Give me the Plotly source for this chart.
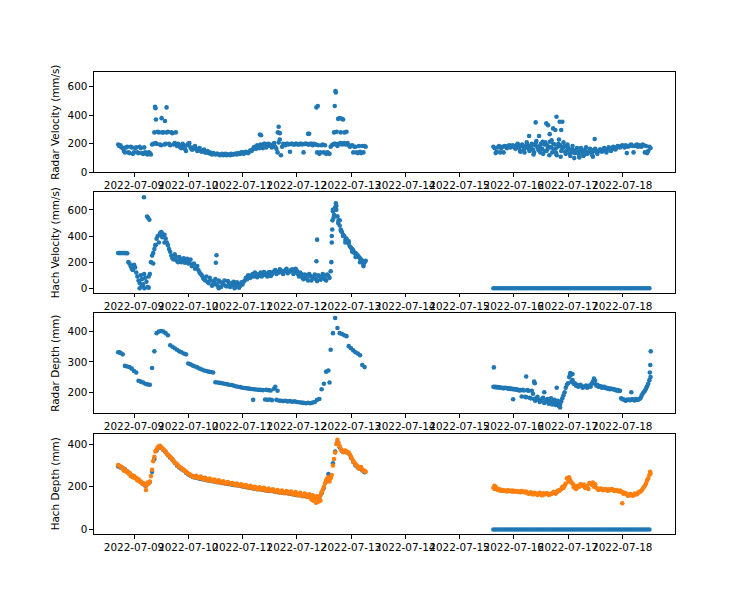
import pandas as pd
import plotly.graph_objects as go

# ---------------- data ----------------
# hourly samples, period A: 2022-07-08 17:00 .. 2022-07-13 06:00 ; period B: 2022-07-15 15:00 .. 2022-07-18 12:00
# "_h" lists hold the readings taken at half past each of those hours
tA = pd.date_range('2022-07-08 17:00', periods=110, freq='h')
tB = pd.date_range('2022-07-15 15:00', periods=70, freq='h')
tA_h = pd.date_range('2022-07-08 17:30', periods=110, freq='h')
tB_h = pd.date_range('2022-07-15 15:30', periods=70, freq='h')
tB_q = pd.date_range('2022-07-16 00:45', periods=36, freq='h')

radar_vel_A = [195, 190, 170, 140, 180, 135, 175, 140, 175, 135,
               170, 130, 140, 125, 135, 195, 280, 200, 280, 190,
               280, 200, 285, 190, 275, 205, 185, 190, 170, 190,
               150, 200, 175, 160, 185, 150, 170, 145, 160, 140,
               135, 130, 135, 125, 130, 120, 130, 125, 120, 125,
               130, 125, 130, 135, 130, 140, 135, 140, 145, 150,
               175, 165, 180, 195, 170, 200, 185, 195, 175, 205,
               165, 210, 120, 200, 190, 200, 145, 200, 195, 200,
               195, 200, 140, 200, 195, 200, 190, 195, 140, 130,
               190, 140, 130, 135, 180, 195, 200, 185, 200, 195,
               205, 200, 190, 185, 140, 180, 135, 145, 185, 185]
radar_vel_A_h = [185, 175, 150, 175, 140, 180, 130, 170, 140, 180,
                 135, 175, 130, 140, 125, 200, 205, 285, 195, 280,
                 195, 280, 200, 280, 195, 280, 200, 175, 200, 165,
                 190, 205, 160, 175, 165, 160, 150, 155, 140, 150,
                 140, 125, 130, 130, 125, 125, 120, 130, 125, 120,
                 125, 130, 125, 130, 140, 130, 145, 135, 155, 160,
                 180, 190, 170, 185, 200, 175, 200, 185, 195, 180,
                 140, 230, 180, 195, 200, 195, 200, 195, 200, 195,
                 200, 195, 200, 200, 195, 200, 200, 195, 190, 140,
                 195, 190, 140, 130, 190, 200, 195, 200, 205, 200,
                 195, 205, 180, 190, 180, 140, 185, 135, 140, 180]
radar_vel_B = [180, 135, 175, 140, 180, 185, 170, 190, 180, 185,
               175, 190, 145, 185, 180, 195, 150, 200, 140, 220,
               155, 200, 130, 210, 165, 215, 140, 195, 120, 230,
               150, 210, 130, 175, 115, 185, 135, 170, 105, 160,
               120, 175, 140, 160, 110, 165, 130, 160, 145, 170,
               140, 175, 150, 180, 160, 185, 175, 190, 175, 135,
               185, 195, 140, 190, 180, 185, 195, 140, 135, 180]
radar_vel_B_h = [170, 145, 185, 170, 140, 180, 185, 175, 190, 175,
                 195, 170, 190, 160, 175, 185, 170, 160, 190, 175,
                 185, 165, 195, 150, 180, 175, 200, 165, 180, 190,
                 170, 185, 155, 160, 140, 155, 150, 140, 150, 135,
                 155, 130, 150, 140, 155, 145, 150, 160, 155, 165,
                 160, 160, 170, 165, 175, 180, 185, 185, 190, 180,
                 190, 185, 185, 195, 190, 180, 190, 185, 150, 170]
radar_vel_B_q = [165, 200, 150, 195, 140, 210, 160, 185, 125, 205,
                 170, 140, 215, 150, 190, 120, 225, 160, 135, 200,
                 110, 175, 145, 195, 130, 160, 100, 150, 125, 170,
                 115, 145, 135, 165, 120, 150]
radar_vel_extra_t = ['2022-07-09 09:18', '2022-07-09 09:30', '2022-07-09 09:42', '2022-07-09 12:12',
                     '2022-07-09 13:42', '2022-07-09 14:24', '2022-07-11 07:42', '2022-07-11 08:12',
                     '2022-07-11 15:36', '2022-07-11 16:00', '2022-07-11 16:30', '2022-07-12 05:00',
                     '2022-07-12 05:30', '2022-07-12 08:42', '2022-07-12 09:18', '2022-07-12 16:48',
                     '2022-07-12 17:06', '2022-07-12 17:18', '2022-07-12 18:18', '2022-07-12 19:00',
                     '2022-07-12 20:00', '2022-07-12 20:30', '2022-07-12 16:30', '2022-07-12 17:42',
                     '2022-07-12 21:12', '2022-07-12 22:00', '2022-07-12 19:30',
                     '2022-07-16 06:48', '2022-07-16 09:42', '2022-07-16 11:12', '2022-07-16 14:24',
                     '2022-07-16 15:12', '2022-07-16 15:54', '2022-07-16 17:24', '2022-07-16 18:24',
                     '2022-07-16 18:54', '2022-07-16 20:18', '2022-07-16 21:00', '2022-07-16 21:30',
                     '2022-07-17 11:48']
radar_vel_extra_v = [460, 450, 370, 380, 360, 455, 265, 260, 280, 320, 275, 270,
                     270, 455, 465, 465, 570, 560, 375, 380, 375, 370, 280, 285,
                     280, 285, 280,
                     255, 350, 255, 343, 330, 268, 308, 297, 390, 355, 297, 355, 234]

hach_vel_A = [270, 270, 270, 270, 268, 190, 150, 180, 120, 60,
              100, 30, 80, 10, 110, 250, 300, 380, 350, 430,
              400, 380, 330, 280, 230, 260, 210, 240, 200, 230,
              210, 190, 220, 180, 150, 170, 120, 100, 70, 90,
              40, 60, 30, 70, 20, 50, 40, 60, 15, 40,
              20, 50, 10, 35, 20, 30, 60, 70, 90, 100,
              90, 110, 95, 120, 100, 115, 90, 125, 105, 130,
              110, 120, 135, 110, 140, 115, 130, 145, 120, 135,
              90, 110, 70, 100, 60, 95, 80, 105, 55, 90,
              75, 100, 60, 95, 130, 600, 620, 550, 480, 430,
              400, 380, 340, 310, 290, 270, 250, 230, 210, 200]
hach_vel_A_h = [270, 270, 270, 270, 200, 170, 140, 160, 90, 40,
                70, 110, 50, 90, 200, 270, 330, 400, 420, 390,
                410, 350, 300, 250, 220, 240, 200, 225, 215, 195,
                225, 200, 170, 190, 160, 140, 110, 80, 60, 50,
                80, 20, 50, 30, 60, 10, 30, 20, 55, 10,
                40, 25, 45, 5, 45, 50, 80, 100, 80, 110,
                120, 85, 110, 90, 125, 100, 120, 95, 125, 140,
                125, 145, 120, 130, 150, 125, 140, 110, 150, 110,
                120, 80, 105, 75, 110, 60, 90, 70, 100, 65,
                110, 70, 105, 80, 400, 560, 630, 520, 440, 410,
                370, 360, 320, 300, 270, 260, 240, 220, 180, 210]
hach_vel_B = [0, 0, 0, 0, 0, 0, 0, 0, 0, 0,
              0, 0, 0, 0, 0, 0, 0, 0, 0, 0,
              0, 0, 0, 0, 0, 0, 0, 0, 0, 0,
              0, 0, 0, 0, 0, 0, 0, 0, 0, 0,
              0, 0, 0, 0, 0, 0, 0, 0, 0, 0,
              0, 0, 0, 0, 0, 0, 0, 0, 0, 0,
              0, 0, 0, 0, 0, 0, 0, 0, 0, 0]
hach_vel_extra_t = ['2022-07-09 04:24', '2022-07-09 05:48', '2022-07-09 06:12', '2022-07-09 06:48',
                    '2022-07-09 02:30', '2022-07-09 04:36', '2022-07-09 06:30', '2022-07-09 03:30',
                    '2022-07-09 08:30', '2022-07-09 09:30', '2022-07-09 11:30', '2022-07-09 12:30',
                    '2022-07-09 13:30', '2022-07-10 12:30', '2022-07-10 12:12', '2022-07-10 13:30',
                    '2022-07-10 20:30', '2022-07-12 09:00', '2022-07-12 08:42', '2022-07-12 15:18',
                    '2022-07-12 15:30', '2022-07-12 15:42', '2022-07-12 15:48', '2022-07-12 16:00',
                    '2022-07-12 16:18', '2022-07-12 16:36', '2022-07-12 17:18', '2022-07-12 17:30',
                    '2022-07-12 18:18', '2022-07-12 19:00', '2022-07-12 19:30', '2022-07-12 20:30',
                    '2022-07-12 21:30', '2022-07-12 23:00', '2022-07-13 00:30', '2022-07-13 02:00',
                    '2022-07-13 04:00', '2022-07-13 05:30']
hach_vel_extra_v = [696, 549, 540, 524, 0, 0, 5, 20, 190, 330, 410, 420, 350, 253, 195, 0,
                    0, 372, 207, 200, 350, 450, 520, 590, 540, 600, 650, 600, 500, 520,
                    450, 400, 350, 360, 280, 240, 200, 170]

radar_depth_A = [332, 330, 325, 287, 285, 283, 278, 270, 265, 238,
                 235, 232, 228, 226, 225, 280, 335, 395, 400, 402,
                 400, 395, 388, 355, 350, 345, 340, 335, 332, 328,
                 325, 295, 292, 288, 285, 282, 278, 275, 272, 270,
                 268, 267, 265, 233, 232, 231, 230, 228, 227, 225,
                 224, 222, 220, 218, 217, 215, 214, 213, 212, 211,
                 210, 209, 208, 208, 207, 176, 175, 176, 174, 212,
                 175, 173, 172, 171, 172, 170, 171, 169, 170, 168,
                 167, 166, 165, 164, 165, 164, 166, 168, 175, 178,
                 210, 228, 268, 272, 340, 395, 445, 412, 395, 392,
                 388, 385, 352, 345, 338, 332, 328, 322, 290, 283]
radar_depth_B = [218, 218, 217, 216, 215, 215, 214, 213, 212, 211,
                 210, 208, 207, 208, 185, 207, 182, 205, 178, 180,
                 175, 172, 182, 168, 178, 170, 160, 175, 165, 155,
                 170, 190, 215, 230, 255, 240, 230, 225, 222, 220,
                 218, 222, 220, 218, 235, 238, 225, 220, 215, 218,
                 215, 213, 212, 210, 208, 207, 205, 178, 175, 174,
                 175, 176, 175, 178, 175, 180, 195, 205, 220, 240]
radar_depth_B_h = [217, 216, 216, 214, 213, 214, 212, 211, 210, 209,
                   208, 206, 186, 206, 184, 205, 180, 195, 172, 185,
                   168, 178, 165, 175, 162, 180, 168, 158, 172, 160,
                   180, 200, 225, 250, 235, 228, 222, 218, 225, 215,
                   220, 215, 222, 228, 230, 222, 218, 220, 216, 214,
                   212, 210, 211, 209, 206, 204, 180, 176, 172, 176,
                   174, 177, 173, 176, 178, 188, 200, 212, 228, 250]
radar_depth_extra_t = ['2022-07-08 17:30', '2022-07-11 04:42', '2022-07-11 10:30', '2022-07-11 11:30',
                       '2022-07-11 12:30', '2022-07-11 14:30', '2022-07-11 15:30', '2022-07-12 14:30',
                       '2022-07-15 15:12', '2022-07-15 23:42', '2022-07-16 05:30', '2022-07-16 09:00',
                       '2022-07-16 09:18', '2022-07-16 13:30', '2022-07-16 20:30', '2022-07-17 01:00',
                       '2022-07-17 02:00', '2022-07-17 11:30', '2022-07-18 04:00', '2022-07-18 12:12',
                       '2022-07-18 12:24', '2022-07-18 12:36', '2022-07-16 19:00']
radar_depth_extra_v = [332, 175, 208, 207, 206, 218, 205, 232,
                       282, 177, 252, 235, 230, 200, 150, 263,
                       260, 245, 200, 265, 290, 335, 215]

hach_depth_A = [295, 290, 288, 282, 272, 262, 252, 246, 240, 232,
                222, 214, 205, 215, 222, 270, 330, 370, 385, 382,
                372, 362, 348, 336, 326, 312, 300, 290, 282, 276,
                266, 258, 252, 246, 244, 241, 238, 236, 234, 232,
                230, 228, 226, 224, 222, 220, 218, 216, 214, 213,
                211, 209, 208, 206, 204, 202, 200, 198, 196, 194,
                192, 191, 189, 188, 186, 184, 182, 181, 180, 178,
                176, 174, 173, 172, 171, 170, 168, 166, 164, 162,
                161, 159, 157, 156, 154, 152, 155, 150, 152, 148,
                170, 195, 225, 260, 250, 310, 365, 410, 385, 368,
                364, 362, 356, 336, 316, 300, 290, 285, 276, 268]
hach_depth_B = [0, 0, 0, 0, 0, 0, 0, 0, 0, 0,
                0, 0, 0, 0, 0, 0, 0, 0, 0, 0,
                0, 0, 0, 0, 0, 0, 0, 0, 0, 0,
                0, 0, 0, 0, 0, 0, 0, 0, 0, 0,
                0, 0, 0, 0, 0, 0, 0, 0, 0, 0,
                0, 0, 0, 0, 0, 0, 0, 0, 0, 0,
                0, 0, 0, 0, 0, 0, 0, 0, 0, 0]

depth2_A = [302, 295, 285, 280, 270, 265, 255, 250, 242, 235,
            225, 218, 212, 220, 225, 280, 340, 375, 390, 385,
            375, 365, 350, 340, 330, 315, 305, 295, 285, 280,
            270, 262, 255, 250, 248, 245, 242, 240, 238, 236,
            234, 232, 230, 228, 226, 224, 222, 220, 218, 217,
            215, 213, 212, 210, 208, 206, 204, 202, 200, 198,
            196, 195, 193, 192, 190, 188, 186, 185, 184, 182,
            180, 178, 177, 176, 175, 174, 172, 170, 168, 166,
            165, 163, 161, 160, 158, 150, 160, 145, 155, 140,
            175, 200, 230, 245, 240, 300, 360, 420, 390, 370,
            368, 365, 360, 340, 320, 305, 295, 290, 280, 275]
depth2_A_h = [298, 292, 275, 272, 262, 250, 245, 240, 230, 225,
              215, 210, 205, 215, 250, 320, 365, 385, 392, 380,
              370, 355, 345, 335, 320, 310, 300, 290, 282, 275,
              265, 258, 250, 245, 252, 240, 248, 235, 242, 230,
              238, 226, 234, 222, 230, 218, 226, 215, 222, 212,
              218, 208, 215, 205, 212, 200, 208, 196, 205, 192,
              200, 188, 198, 186, 195, 182, 192, 180, 188, 176,
              185, 172, 182, 170, 180, 168, 178, 163, 175, 160,
              172, 156, 168, 152, 165, 140, 155, 150, 148, 160,
              185, 215, 240, 225, 255, 330, 400, 405, 375, 362,
              370, 358, 350, 330, 312, 300, 285, 292, 276, 270]
depth2_B = [195, 200, 185, 182, 180, 180, 178, 180, 178, 177,
            178, 176, 175, 177, 174, 172, 170, 168, 172, 166,
            168, 165, 170, 166, 168, 165, 170, 172, 175, 180,
            190, 195, 215, 235, 230, 215, 205, 195, 200, 208,
            210, 200, 190, 215, 220, 212, 192, 188, 190, 187,
            185, 188, 186, 185, 183, 180, 182, 175, 172, 165,
            160, 162, 160, 165, 172, 178, 190, 205, 230, 255]
depth2_B_h = [190, 192, 188, 186, 184, 182, 184, 181, 182, 180,
              180, 178, 180, 176, 178, 168, 174, 164, 170, 162,
              172, 160, 164, 170, 162, 166, 175, 168, 182, 185,
              200, 205, 240, 225, 220, 198, 190, 205, 212, 205,
              195, 205, 218, 210, 200, 195, 185, 192, 184, 190,
              182, 184, 190, 180, 185, 178, 178, 168, 170, 158,
              166, 158, 168, 165, 175, 182, 198, 215, 240, 262]
depth2_extra_t = ['2022-07-09 05:18', '2022-07-12 07:30', '2022-07-12 08:30', '2022-07-12 09:30',
                  '2022-07-12 10:30', '2022-07-18 00:00', '2022-07-18 12:18', '2022-07-17 00:30',
                  '2022-07-15 15:30']
depth2_extra_v = [185, 135, 125, 130, 135, 123, 270, 245, 205]

day_ticks = ['2022-07-09', '2022-07-10', '2022-07-11', '2022-07-12', '2022-07-13',
             '2022-07-14', '2022-07-15', '2022-07-16', '2022-07-17', '2022-07-18']
y_titles = ['Radar Velocity (mm/s)', 'Hach Velocity (mm/s)', 'Radar Depth (mm)', 'Hach Depth (mm)']

# ---------------- figure ----------------
BLUE = '#1f77b4'
ORANGE = '#ff7f0e'
MS = 4.6
FONT = 'DejaVu Sans'
FS = 10.4

fig = go.Figure()


def ts(*parts):
    out = []
    for p in parts:
        out += [pd.Timestamp(s) for s in p]
    return out


def add(x, y, k, color):
    fig.add_trace(go.Scatter(
        x=x, y=y, mode='markers',
        marker=dict(size=MS, color=color, line=dict(width=0)),
        xaxis='x' if k == 1 else 'x%d' % k,
        yaxis='y' if k == 1 else 'y%d' % k,
        showlegend=False, hoverinfo='skip'))


add(ts(tA, tA_h, tB, tB_h, tB_q, radar_vel_extra_t),
    radar_vel_A + radar_vel_A_h + radar_vel_B + radar_vel_B_h + radar_vel_B_q + radar_vel_extra_v, 1, BLUE)
add(ts(tA, tA_h, tB, hach_vel_extra_t),
    hach_vel_A + hach_vel_A_h + hach_vel_B + hach_vel_extra_v, 2, BLUE)
add(ts(tA, tB, tB_h, radar_depth_extra_t),
    radar_depth_A + radar_depth_B + radar_depth_B_h + radar_depth_extra_v, 3, BLUE)
add(ts(tA, tB), hach_depth_A + hach_depth_B, 4, BLUE)
add(ts(tA, tA_h, tB, tB_h, depth2_extra_t),
    depth2_A + depth2_A_h + depth2_B + depth2_B_h + depth2_extra_v, 4, ORANGE)

H = 0.21732
G = 0.04346
domains = [[1 - H, 1.0],
           [1 - 2 * H - G, 1 - H - G],
           [1 - 3 * H - 2 * G, 1 - 2 * H - 2 * G],
           [0.0, H]]
yranges = [[0, 703], [-35, 733], [130.5, 461.5], [-21, 449]]
yticks = [[0, 200, 400, 600], [0, 200, 400, 600], [200, 300, 400], [0, 200, 400]]

layout = dict(
    width=750, height=600, autosize=False,
    margin=dict(l=94, r=75, t=72, b=66, pad=0),
    paper_bgcolor='white', plot_bgcolor='white',
    font=dict(family=FONT, size=FS, color='black'),
)
for k in range(1, 5):
    xs = 'xaxis' if k == 1 else 'xaxis%d' % k
    ys = 'yaxis' if k == 1 else 'yaxis%d' % k
    layout[xs] = dict(
        domain=[0, 1], anchor='y' if k == 1 else 'y%d' % k,
        type='date', range=['2022-07-08 06:18', '2022-07-18 23:20'],
        tickmode='array', tickvals=day_ticks, ticktext=day_ticks, tickangle=0,
        ticks='outside', ticklen=3.6, tickwidth=0.83, tickcolor='black',
        showline=True, linecolor='black', linewidth=0.83, mirror=True,
        showgrid=False, zeroline=False,
        tickfont=dict(family=FONT, size=FS, color='black'))
    layout[ys] = dict(
        domain=domains[k - 1], anchor='x' if k == 1 else 'x%d' % k,
        range=yranges[k - 1], tickmode='array', tickvals=yticks[k - 1],
        ticks='outside', ticklen=3.6, tickwidth=0.83, tickcolor='black',
        showline=True, linecolor='black', linewidth=0.83, mirror=True,
        showgrid=False, zeroline=False,
        tickfont=dict(family=FONT, size=FS, color='black'),
        title=dict(text=y_titles[k - 1], standoff=5,
                   font=dict(family=FONT, size=FS, color='black')))

fig.update_layout(**layout)
fig.write_html('out.html')
